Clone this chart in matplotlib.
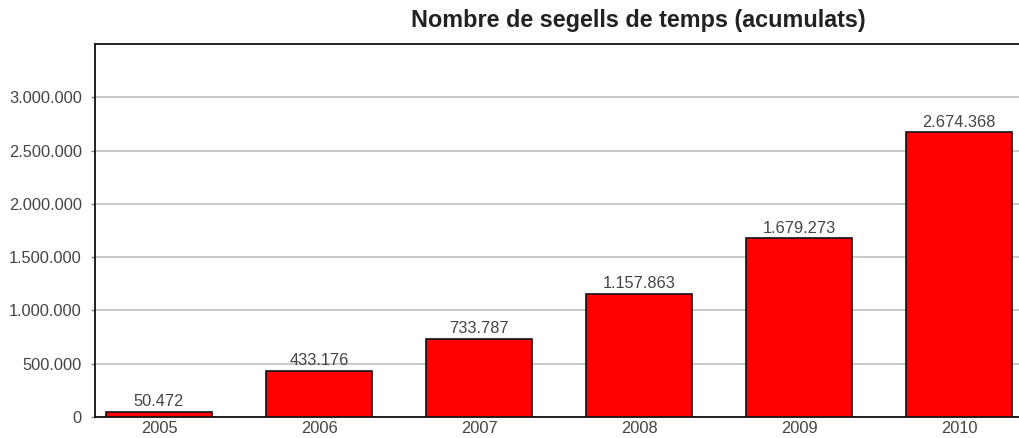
import matplotlib.pyplot as plt
from matplotlib.ticker import FuncFormatter

years = ["2005", "2006", "2007", "2008", "2009", "2010"]
segells = [50472, 433176, 733787, 1157863, 1679273, 2674368]
y_ticks = [0, 500000, 1000000, 1500000, 2000000, 2500000, 3000000]


def punts(v):
    # format amb punt com a separador de milers
    return f"{int(v):,}".replace(",", ".")


plt.rcParams["font.family"] = ["Liberation Sans", "DejaVu Sans"]

fig = plt.figure(figsize=(10.2, 4.38), dpi=100)
ax = fig.add_axes([95 / 1020, 21 / 438, 925 / 1020, 373 / 438])

x = list(range(len(years)))
bars = ax.bar(x, segells, width=0.6625, color="#ff0000", edgecolor="#111111",
              linewidth=1.2, zorder=3)

for xi, v in zip(x, segells):
    ax.text(xi, v + 22000, punts(v), ha="center", va="bottom",
            fontsize=11.8, color="#444444", zorder=4)

ax.set_xlim(-0.4, 5.381)
ax.set_ylim(0, 3500000)
ax.set_yticks(y_ticks)
ax.yaxis.set_major_formatter(FuncFormatter(lambda v, p: punts(v)))
ax.set_xticks(x)
ax.set_xticklabels(years)
ax.grid(axis="y", color="#c0c0c0", linewidth=1.2, zorder=0)

ax.spines["right"].set_visible(False)
for s in ["left", "top", "bottom"]:
    ax.spines[s].set_color("#111111")
    ax.spines[s].set_linewidth(1.3)

ax.tick_params(axis="y", length=3, width=1, color="#888888",
               labelsize=11.8, labelcolor="#444444", pad=6.5)
ax.tick_params(axis="x", length=0, labelsize=11.8, labelcolor="#444444", pad=3)

fig.text(638 / 1020, 417 / 438, "Nombre de segells de temps (acumulats)",
         ha="center", va="center", fontsize=16.8, fontweight="bold", color="#222222")

fig.savefig("out.png", dpi=100)
